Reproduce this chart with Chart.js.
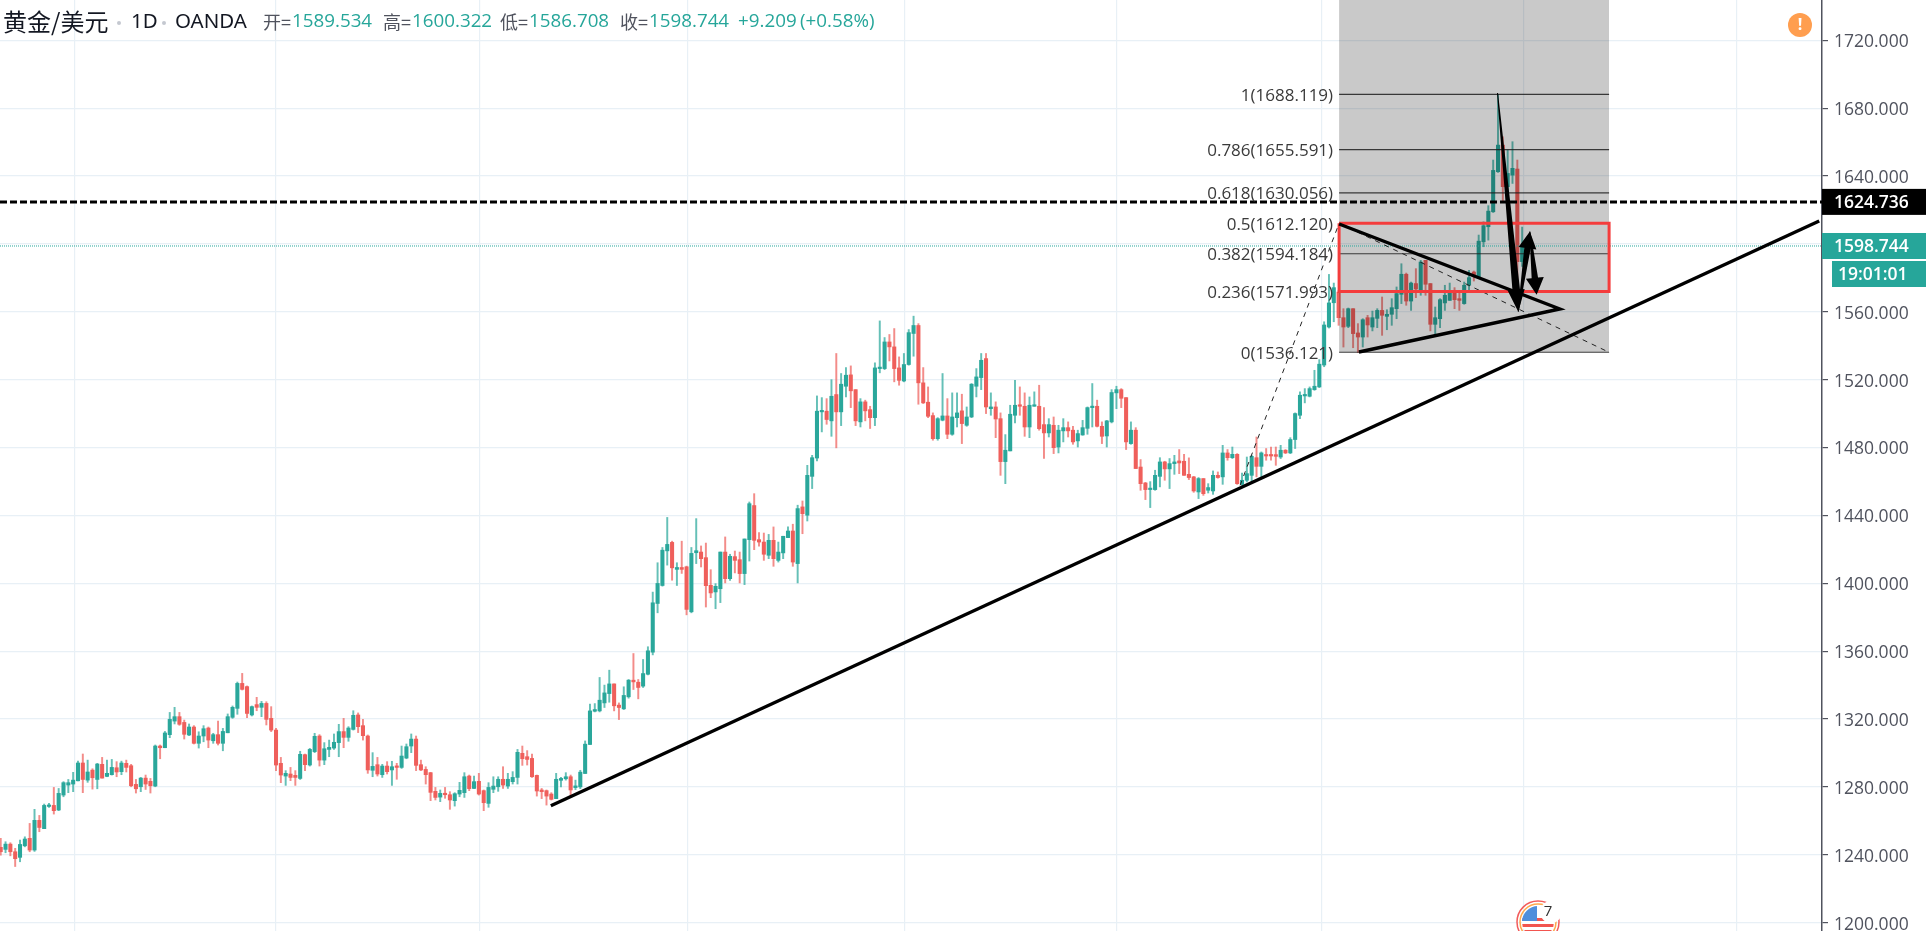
<!DOCTYPE html>
<html>
<head>
    <title>黄金/美元 1D OANDA</title>
    <script src="https://cdn.jsdelivr.net/npm/chart.js@4.4.1/dist/chart.umd.min.js"></script>
    <style>
        html, body { margin: 0; padding: 0; background: #ffffff; overflow: hidden; }
        .chart-container { position: relative; width: 1926px; height: 931px; }
    </style>
</head>
<body>
    <div class="chart-container">
        <canvas id="goldChart" width="1926" height="931"></canvas>
    </div>

    <script>
        // Daily candles, oldest first
        const opens = [
            1244.4,1243.2,1246.3,1241.8,1238.5,1245.3,1249.7,1242.8,1260.3,1255.4,
            1268.5,1269.1,1266.4,1275.2,1281.1,1281.7,1283.6,1294.1,1284.0,1289.9,
            1284.4,1293.3,1286.2,1287.2,1291.3,1289.0,1293.9,1292.5,1281.5,1280.1,
            1285.2,1283.3,1280.5,1304.1,1303.1,1310.8,1318.8,1321.4,1318.0,1310.6,
            1315.3,1305.7,1310.0,1314.7,1307.2,1310.8,1305.7,1311.9,1321.0,1326.3,
            1341.0,1339.1,1322.4,1328.5,1326.9,1329.2,1320.4,1313.5,1293.9,1286.4,
            1287.6,1286.8,1285.0,1299.0,1292.9,1300.8,1310.0,1295.8,1302.1,1302.9,
            1306.1,1312.6,1309.2,1313.9,1322.4,1316.1,1310.0,1289.8,1293.1,1287.2,
            1292.3,1290.0,1291.9,1291.5,1297.0,1304.1,1308.2,1293.1,1290.3,1288.4,
            1277.4,1274.0,1276.0,1275.4,1271.9,1275.8,1276.6,1286.4,1279.1,1283.3,
            1277.8,1270.3,1278.6,1280.1,1284.5,1280.5,1283.1,1285.6,1299.8,1297.8,
            1296.8,1286.8,1278.2,1277.8,1275.8,1273.1,1283.9,1284.8,1286.0,1279.6,
            1280.0,1287.9,1305.0,1324.6,1324.8,1329.5,1335.0,1340.7,1328.2,1326.0,
            1333.1,1342.9,1341.7,1339.4,1346.4,1359.4,1388.1,1398.7,1419.1,1424.1,
            1408.2,1409.3,1409.7,1383.2,1418.0,1418.4,1415.1,1398.8,1394.9,1396.8,
            1418.4,1402.7,1415.7,1413.9,1405.7,1425.7,1445.8,1425.7,1424.3,1416.5,
            1425.3,1413.5,1417.9,1426.9,1430.8,1411.6,1445.0,1440.1,1463.0,1473.8,
            1501.0,1501.4,1495.7,1511.2,1501.0,1516.1,1522.8,1514.1,1495.1,1506.9,
            1502.3,1497.6,1526.5,1526.5,1542.2,1539.3,1526.9,1519.2,1528.9,1547.2,
            1551.9,1518.1,1506.7,1498.8,1485.2,1496.1,1498.6,1487.8,1497.6,1501.6,
            1493.1,1498.0,1516.1,1521.2,1532.4,1502.9,1503.9,1497.0,1471.7,1478.0,
            1499.0,1504.9,1504.3,1492.1,1504.3,1504.3,1493.5,1488.6,1493.1,1480.3,
            1489.8,1491.7,1490.2,1483.9,1487.4,1491.3,1503.5,1504.3,1492.5,1486.8,
            1495.1,1512.2,1514.1,1509.4,1482.3,1490.2,1468.5,1459.1,1455.2,1455.2,
            1463.0,1471.5,1467.4,1470.5,1472.1,1471.9,1464.2,1462.7,1453.8,1461.7,
            1454.8,1454.4,1463.6,1462.7,1476.8,1474.0,1476.0,1458.3,1460.7,1463.6,
            1474.0,1468.9,1475.8,1475.8,1475.8,1474.4,1478.4,1476.8,1484.7,1499.0,
            1510.4,1510.2,1514.1,1515.7,1528.6,1551.0,1565.3,1571.6,1556.5,1551.4,
            1561.8,1547.5,1545.1,1556.5,1551.0,1556.1,1560.8,1557.3,1558.5,1561.8,
            1570.3,1582.1,1566.3,1576.6,1573.0,1590.3,1576.6,1552.6,1555.9,1565.2,
            1566.7,1572.2,1567.7,1564.8,1575.6,1583.4,1580.6,1601.2,1610.1,1618.9,
            1642.5,1658.2,1633.7,1640.5,1644.1,1589.534
        ];
        const highs = [
            1249.7,1247.7,1247.1,1243.8,1248.7,1250.6,1258.5,1266.8,1263.2,1269.9,
            1270.3,1279.7,1279.1,1283.1,1284.4,1288.6,1295.2,1299.4,1295.8,1290.7,
            1293.9,1297.4,1295.8,1296.2,1294.9,1295.2,1295.8,1293.3,1284.4,1285.6,
            1287.0,1285.0,1304.7,1304.7,1312.7,1323.9,1326.9,1323.9,1319.4,1317.1,
            1316.1,1312.5,1316.1,1315.3,1311.6,1318.8,1314.5,1323.0,1327.7,1341.8,
            1346.9,1339.5,1327.7,1332.8,1330.4,1330.2,1327.3,1314.5,1297.4,1289.6,
            1291.5,1289.6,1301.0,1299.4,1302.7,1311.6,1310.8,1306.1,1307.6,1311.2,
            1316.9,1320.4,1315.5,1324.9,1323.6,1319.8,1310.6,1300.2,1297.4,1293.3,
            1294.9,1295.1,1293.9,1304.1,1305.3,1311.2,1310.0,1295.8,1291.9,1288.6,
            1279.7,1278.2,1279.7,1277.2,1276.6,1282.7,1288.4,1287.0,1286.4,1288.0,
            1278.2,1282.5,1286.0,1286.0,1291.9,1288.0,1289.0,1302.1,1304.1,1301.4,
            1299.4,1287.0,1279.1,1278.2,1276.6,1288.0,1285.6,1288.4,1287.0,1284.0,
            1289.8,1307.1,1328.8,1329.1,1344.5,1340.0,1348.8,1340.7,1329.5,1339.0,
            1343.3,1358.6,1343.3,1355.1,1362.6,1394.8,1412.1,1421.1,1438.8,1424.8,
            1412.1,1424.8,1410.1,1421.1,1438.1,1422.0,1423.7,1408.0,1399.8,1418.4,
            1427.3,1417.1,1419.0,1418.4,1426.1,1447.9,1452.8,1429.8,1429.6,1428.8,
            1433.2,1424.3,1427.7,1433.2,1434.8,1446.0,1448.5,1469.5,1475.4,1510.4,
            1509.4,1508.8,1520.0,1535.4,1523.6,1527.1,1528.1,1514.1,1508.8,1507.9,
            1504.3,1529.9,1554.6,1544.8,1546.6,1550.1,1533.4,1535.4,1549.5,1557.4,
            1553.0,1527.1,1515.7,1500.4,1497.6,1523.6,1508.8,1512.2,1512.2,1511.4,
            1503.9,1517.7,1526.5,1535.4,1535.4,1512.2,1506.9,1500.4,1487.6,1504.9,
            1519.6,1515.7,1512.2,1509.8,1512.8,1516.7,1503.5,1497.0,1498.0,1493.1,
            1497.0,1495.1,1492.5,1490.2,1496.0,1503.9,1517.7,1507.9,1495.1,1496.0,
            1514.1,1516.1,1514.7,1509.4,1495.1,1491.7,1472.9,1459.5,1459.9,1466.6,
            1474.0,1471.9,1473.5,1475.4,1478.8,1476.0,1473.9,1463.0,1462.3,1461.7,
            1458.7,1466.2,1465.6,1481.3,1478.8,1480.3,1476.4,1465.0,1474.4,1475.4,
            1486.2,1477.4,1479.4,1480.3,1480.3,1481.3,1478.8,1485.8,1500.4,1512.8,
            1514.7,1515.7,1525.5,1531.8,1554.1,1582.0,1576.9,1572.6,1561.8,1562.2,
            1561.8,1553.0,1555.9,1557.9,1560.4,1561.8,1568.7,1561.2,1567.7,1574.6,
            1588.3,1582.8,1577.5,1585.4,1590.3,1590.3,1576.6,1562.8,1567.7,1575.6,
            1576.9,1574.2,1572.6,1577.5,1584.4,1584.0,1605.2,1613.0,1622.5,1649.4,
            1688.1,1663.1,1655.3,1660.2,1649.4,1609.9
        ];
        const lows = [
            1239.8,1241.2,1239.4,1233.1,1235.9,1244.7,1241.8,1242.0,1253.6,1255.4,
            1267.9,1264.0,1266.0,1274.2,1276.6,1277.2,1283.6,1276.6,1282.7,1278.7,
            1278.9,1285.2,1286.0,1287.0,1286.0,1287.2,1288.8,1280.1,1276.4,1277.2,
            1278.5,1276.4,1280.1,1296.6,1303.1,1309.0,1317.1,1316.3,1308.2,1310.2,
            1305.3,1302.9,1306.6,1303.1,1305.7,1304.7,1301.3,1311.9,1320.4,1322.8,
            1337.1,1320.8,1321.8,1324.9,1321.4,1316.5,1312.6,1289.6,1282.5,1280.9,
            1283.7,1280.9,1284.4,1289.6,1292.3,1300.2,1292.3,1293.1,1297.8,1302.1,
            1297.8,1303.1,1306.9,1313.5,1312.0,1307.6,1288.0,1286.0,1286.4,1285.6,
            1287.6,1280.9,1284.5,1290.9,1296.6,1300.2,1289.6,1289.6,1281.7,1271.9,
            1272.3,1271.3,1273.3,1266.8,1268.7,1274.2,1273.8,1277.8,1279.0,1275.2,
            1266.0,1268.0,1276.6,1277.4,1279.1,1279.1,1281.7,1281.7,1292.7,1292.9,
            1285.6,1274.6,1273.1,1269.3,1272.3,1273.1,1280.0,1284.0,1274.2,1278.4,
            1279.0,1287.9,1305.0,1324.2,1324.2,1326.8,1329.9,1324.8,1319.7,1325.6,
            1332.3,1337.4,1331.9,1338.6,1346.0,1357.8,1382.6,1398.3,1410.7,1401.8,
            1398.7,1405.8,1381.4,1382.6,1411.6,1409.6,1386.0,1391.5,1385.0,1388.6,
            1400.2,1401.7,1406.1,1400.2,1399.2,1413.1,1419.8,1421.8,1413.5,1414.5,
            1410.0,1412.5,1414.5,1426.9,1410.0,1400.2,1429.2,1436.7,1455.8,1472.1,
            1489.2,1493.7,1486.6,1479.8,1492.9,1509.8,1503.5,1492.9,1492.1,1495.7,
            1491.2,1492.9,1524.0,1525.9,1531.0,1518.7,1516.7,1518.7,1528.5,1533.8,
            1505.5,1505.9,1497.6,1484.3,1484.3,1495.7,1485.2,1487.2,1492.1,1482.3,
            1492.5,1497.6,1509.8,1514.1,1500.0,1499.0,1485.8,1463.6,1458.7,1478.0,
            1494.5,1499.0,1486.6,1485.8,1504.3,1490.2,1473.5,1486.2,1476.4,1476.8,
            1483.3,1486.2,1481.9,1480.3,1487.2,1487.8,1492.1,1492.1,1482.3,1480.3,
            1494.5,1502.9,1503.5,1478.8,1481.9,1467.6,1454.8,1449.3,1444.6,1454.8,
            1456.8,1460.7,1455.8,1464.2,1464.6,1463.6,1461.1,1453.6,1449.9,1451.8,
            1453.2,1452.4,1461.9,1458.3,1472.5,1473.5,1458.3,1457.7,1459.7,1459.1,
            1462.7,1462.7,1472.5,1472.5,1469.5,1473.5,1476.4,1476.4,1479.4,1497.0,
            1506.3,1509.8,1513.7,1515.3,1527.6,1550.4,1554.1,1552.0,1539.2,1550.6,
            1538.8,1535.9,1539.2,1545.1,1548.7,1550.6,1546.1,1549.4,1552.0,1555.9,
            1564.8,1563.8,1560.8,1568.3,1569.7,1569.7,1548.7,1546.7,1550.6,1560.8,
            1566.7,1561.8,1560.8,1564.4,1572.6,1578.1,1580.0,1598.3,1602.2,1618.5,
            1642.1,1624.8,1628.8,1635.6,1577.7,1586.708
        ];
        const closes = [
            1241.8,1246.3,1241.8,1237.7,1246.1,1249.3,1242.8,1260.3,1256.1,1269.1,
            1269.3,1266.0,1276.2,1282.5,1282.5,1284.0,1294.1,1284.4,1288.8,1285.4,
            1293.5,1285.2,1288.0,1291.5,1288.8,1294.1,1291.5,1280.7,1278.9,1285.2,
            1281.7,1280.7,1304.1,1303.1,1311.8,1319.8,1321.4,1316.9,1311.0,1315.3,
            1305.7,1310.0,1314.3,1307.6,1310.8,1305.7,1312.7,1321.4,1326.9,1341.0,
            1337.5,1323.3,1327.3,1326.9,1329.2,1319.8,1313.5,1292.9,1287.0,1288.0,
            1285.6,1285.6,1299.2,1293.1,1302.1,1309.8,1295.8,1302.5,1303.3,1306.3,
            1312.6,1309.2,1314.7,1322.2,1315.5,1310.2,1290.0,1292.1,1287.6,1292.3,
            1289.0,1291.9,1291.5,1298.2,1303.7,1308.2,1292.7,1290.0,1287.2,1276.8,
            1273.8,1276.2,1275.4,1272.3,1276.0,1278.0,1286.0,1279.0,1283.1,1275.8,
            1270.7,1279.7,1280.5,1284.5,1281.1,1284.5,1285.6,1300.4,1296.6,1296.2,
            1286.0,1277.6,1277.2,1274.6,1272.7,1284.5,1285.0,1286.0,1278.2,1280.6,
            1288.7,1305.2,1324.8,1325.6,1331.1,1335.4,1340.7,1327.8,1326.8,1333.9,
            1342.9,1341.9,1338.6,1346.8,1360.2,1388.5,1399.9,1419.5,1422.9,1409.1,
            1409.3,1408.2,1384.6,1417.6,1419.2,1414.5,1398.6,1394.3,1398.2,1418.4,
            1402.7,1415.9,1413.5,1405.7,1426.1,1446.9,1425.3,1424.3,1417.1,1425.3,
            1414.5,1418.4,1427.7,1430.8,1412.5,1444.0,1441.0,1463.6,1474.0,1501.4,
            1501.4,1496.5,1510.2,1501.0,1517.3,1522.6,1513.4,1495.7,1506.9,1501.6,
            1497.6,1526.9,1526.9,1542.2,1539.3,1526.5,1519.6,1528.9,1547.7,1551.9,
            1518.1,1506.3,1498.4,1485.2,1497.0,1498.6,1487.8,1498.0,1500.4,1494.1,
            1498.0,1517.3,1521.6,1531.4,1503.9,1503.9,1496.8,1471.7,1478.4,1499.6,
            1504.9,1504.3,1492.1,1504.9,1504.9,1491.1,1488.6,1493.5,1479.9,1490.2,
            1491.7,1489.8,1483.3,1488.2,1491.7,1503.5,1503.9,1492.5,1486.6,1495.7,
            1512.4,1514.1,1509.0,1483.3,1490.2,1467.6,1458.7,1455.2,1455.8,1463.6,
            1471.5,1467.4,1470.5,1471.5,1470.9,1463.6,1462.3,1454.4,1461.7,1452.8,
            1456.4,1463.6,1462.3,1476.8,1474.0,1476.0,1458.7,1460.7,1464.6,1474.8,
            1468.9,1476.8,1475.0,1475.0,1474.8,1478.4,1476.8,1484.7,1500.0,1510.8,
            1511.2,1514.7,1516.1,1529.1,1552.2,1565.2,1574.2,1556.5,1551.0,1561.8,
            1547.1,1545.1,1555.3,1552.2,1556.5,1560.8,1557.9,1558.5,1562.4,1570.7,
            1582.1,1566.3,1576.9,1573.4,1589.3,1576.2,1552.6,1556.5,1567.1,1569.7,
            1572.2,1567.1,1566.7,1575.6,1580.1,1581.1,1601.6,1610.7,1619.3,1643.3,
            1658.2,1633.7,1641.5,1644.5,1589.5,1598.744
        ];

        const priceTicks = [1200, 1240, 1280, 1320, 1360, 1400, 1440, 1480, 1520, 1560, 1600, 1640, 1680, 1720];
        const gridBars = [15.2, 57, 99.2, 142.3, 187.2, 231.1, 273.4, 315.3, 359.3];

        // Fibonacci levels
        const fibRatios = ['1', '0.786', '0.618', '0.5', '0.382', '0.236', '0'];
        const fibPrices = [1688.119, 1655.591, 1630.056, 1612.12, 1594.184, 1571.993, 1536.121];
        const fibFrom = 277.1;
        const fibTo = 333;

        // Hand drawn lines, as [bar, price]
        const supportLine = [[113.9, 1268.9], [376.5, 1613.5]];
        const wedgeLine = [[277.1, 1611.7], [322.8, 1561.6], [281.2, 1536.3]];
        const fibRise = [[256.6, 1457.7], [277.1, 1612.1]];
        const fibFall = [[277.1, 1612.1], [333, 1536.1]];
        const arrowPaths = [
            [[309.9, 1688.9], [314.2, 1560]],
            [[314.2, 1560], [316.6, 1607.3]],
            [[316.6, 1607.3], [318, 1570]]
        ];
        const resistancePrice = 1624.736;
        const lastPrice = 1598.744;

        const font = '"Open Sans", sans-serif';

        const xMin = -0.145;
        const xMax = 377.08;
        const yMin = 1195.1;
        const yMax = 1743.7;

        const barIndexes = opens.map((_, i) => i);
        const candleColor = (i, alpha) => {
            const color = closes[i] >= opens[i] ? '42,167,155' : '239,95,91';
            return `rgba(${color},${alpha})`;
        };
        const toPoints = pairs => pairs.map(p => ({ x: p[0], y: p[1] }));
        const flatLine = (price, from, to) => [{ x: from, y: price }, { x: to, y: price }];

        const lineDataset = (data, color, width, order, dash) => ({
            type: 'line',
            data: data,
            borderColor: color,
            borderWidth: width,
            borderDash: dash || [],
            pointRadius: 0,
            tension: 0,
            fill: false,
            order: order
        });

        // Chart.js leaves room for the first and last tick label, the plot has to reach the edges
        const noEdgePadding = scale => {
            scale.paddingTop = 0;
            scale.paddingBottom = 0;
            scale.paddingLeft = 0;
            scale.paddingRight = 0;
        };

        // Texts and tapered arrows that sit on top of the chart
        const overlays = {
            id: 'overlays',
            afterDraw(chart) {
                const ctx = chart.ctx;
                const x = chart.scales.x;
                const y = chart.scales.y;
                ctx.save();
                ctx.textBaseline = 'middle';

                // arrows get thicker towards the head
                ctx.fillStyle = '#000000';
                arrowPaths.forEach((path, n) => {
                    const x1 = x.getPixelForValue(path[0][0]);
                    const y1 = y.getPixelForValue(path[0][1]);
                    const x2 = x.getPixelForValue(path[1][0]);
                    const y2 = y.getPixelForValue(path[1][1]);
                    const len = Math.hypot(x2 - x1, y2 - y1);
                    const ux = (x2 - x1) / len;
                    const uy = (y2 - y1) / len;
                    const headLen = n === 0 ? 22 : 17;
                    const headW = n === 0 ? 8.5 : 9;
                    const bx = x2 - ux * headLen;
                    const by = y2 - uy * headLen;
                    const tail = 0.5;
                    const neck = n === 0 ? 3.8 : 3.2;
                    ctx.beginPath();
                    ctx.moveTo(x1 - uy * tail, y1 + ux * tail);
                    ctx.lineTo(bx - uy * neck, by + ux * neck);
                    ctx.lineTo(bx - uy * headW, by + ux * headW);
                    ctx.lineTo(x2, y2);
                    ctx.lineTo(bx + uy * headW, by - ux * headW);
                    ctx.lineTo(bx + uy * neck, by - ux * neck);
                    ctx.lineTo(x1 + uy * tail, y1 - ux * tail);
                    ctx.closePath();
                    ctx.fill();
                });

                // fibonacci labels
                ctx.font = '17px ' + font;
                ctx.fillStyle = '#3a3a3a';
                ctx.textAlign = 'right';
                fibPrices.forEach((price, i) => {
                    ctx.fillText(`${fibRatios[i]}(${price.toFixed(3)})`, x.getPixelForValue(fibFrom) - 6, y.getPixelForValue(price) + 1.5);
                });

                // price tags on the axis
                ctx.textAlign = 'left';
                const tag = (value, text, color, left) => {
                    const py = y.getPixelForValue(value);
                    ctx.fillStyle = color;
                    ctx.fillRect(left, py - 13, 1926 - left, 26);
                    ctx.fillStyle = '#ffffff';
                    ctx.font = '600 17.5px ' + font;
                    ctx.fillText(text, 1834, py + 1);
                };
                tag(resistancePrice, resistancePrice.toFixed(3), '#000000', 1822);
                tag(lastPrice, lastPrice.toFixed(3), '#26a69a', 1822);
                const clockY = y.getPixelForValue(lastPrice) + 28;
                ctx.fillStyle = '#26a69a';
                ctx.fillRect(1832, clockY - 13, 94, 26);
                ctx.fillStyle = '#ffffff';
                ctx.fillText('19:01:01', 1838, clockY + 1);

                // header line
                const dark = '#131722';
                const gray = '#50535e';
                const teal = '#26a69a';
                ctx.fillStyle = dark;
                ctx.font = '24px "Noto Sans CJK SC"';
                ctx.fillText('黄金/美元', 3, 22);
                ctx.font = '20.5px "Noto Sans"';
                ctx.fillText('1D', 131, 22);
                ctx.fillText('OANDA', 175, 22);
                ctx.fillStyle = '#c4c8d0';
                [119, 164].forEach(dotX => {
                    ctx.beginPath();
                    ctx.arc(dotX, 23, 2, 0, Math.PI * 2);
                    ctx.fill();
                });
                [['开', '=', '1589.534', 263], ['高', '=', '1600.322', 383], ['低', '=', '1586.708', 500], ['收', '=', '1598.744', 620]].forEach(part => {
                    ctx.fillStyle = gray;
                    ctx.font = '18px "Noto Sans CJK SC"';
                    ctx.fillText(part[0] + part[1], part[3], 22);
                    ctx.fillStyle = teal;
                    ctx.font = '18.8px ' + font;
                    ctx.fillText(part[2], part[3] + 29, 22);
                });
                ctx.fillText('+9.209', 738, 22);
                ctx.fillText('(+0.58%)', 800, 22);

                // warning badge
                ctx.fillStyle = '#ff9e4f';
                ctx.beginPath();
                ctx.arc(1800, 25, 12, 0, Math.PI * 2);
                ctx.fill();
                ctx.fillStyle = '#ffffff';
                ctx.font = '700 16px ' + font;
                ctx.textAlign = 'center';
                ctx.fillText('!', 1800, 25);

                // economic event flag at the bottom edge
                ctx.save();
                ctx.beginPath();
                ctx.rect(1500, 880, 100, 51);
                ctx.clip();
                ctx.beginPath();
                ctx.arc(1538, 922, 16, 0, Math.PI * 2);
                ctx.fillStyle = '#ffffff';
                ctx.fill();
                ctx.save();
                ctx.clip();
                ['#f2554f', '#ffffff', '#f2554f', '#ffffff', '#f2554f'].forEach((c, i) => {
                    ctx.fillStyle = c;
                    ctx.fillRect(1520, 918 + i * 3, 40, 3);
                });
                ctx.fillStyle = '#4f8fdc';
                ctx.fillRect(1522, 906, 15, 15);
                ctx.restore();
                ctx.lineWidth = 1.5;
                ctx.strokeStyle = '#ffa94d';
                ctx.beginPath();
                ctx.arc(1538, 922, 18, 0, Math.PI * 2);
                ctx.stroke();
                ctx.strokeStyle = '#f25c5c';
                ctx.beginPath();
                ctx.arc(1538, 922, 21, 0, Math.PI * 2);
                ctx.stroke();
                ctx.fillStyle = '#ffffff';
                ctx.beginPath();
                ctx.arc(1551, 912, 11, 0, Math.PI * 2);
                ctx.fill();
                ctx.restore();
                ctx.fillStyle = '#333333';
                ctx.font = '15px ' + font;
                ctx.fillText('7', 1548, 912);

                ctx.restore();
            }
        };

        new Chart(document.getElementById('goldChart'), {
            type: 'bar',
            data: {
                datasets: [
                    // top layers first, lower order is drawn last
                    lineDataset(toPoints(wedgeLine), '#000000', 3.4, 3),
                    lineDataset(toPoints(supportLine), '#000000', 3.4, 3),
                    lineDataset(flatLine(resistancePrice, xMin, xMax), '#000000', 3, 4, [7, 3]),
                    lineDataset(
                        [{ x: fibFrom, y: fibPrices[3] }, { x: fibTo, y: fibPrices[3] }, { x: fibTo, y: fibPrices[5] }, { x: fibFrom, y: fibPrices[5] }, { x: fibFrom, y: fibPrices[3] }],
                        '#f43c3c', 3, 5
                    ),
                    lineDataset(toPoints(fibRise), '#222222', 1, 6, [5, 5]),
                    lineDataset(toPoints(fibFall), '#222222', 1, 6, [5, 5]),
                    ...fibPrices.map(price => lineDataset(flatLine(price, fibFrom, fibTo), 'rgba(30,30,30,0.85)', 1.2, 7)),
                    lineDataset(flatLine(lastPrice, xMin, xMax), '#26a69a', 1, 8, [1, 1]),
                    {
                        type: 'line',
                        data: flatLine(fibPrices[6], fibFrom, fibTo),
                        borderWidth: 0,
                        pointRadius: 0,
                        fill: 'end',
                        backgroundColor: 'rgba(0,0,0,0.21)',
                        order: 9
                    },
                    {
                        data: barIndexes.map(i => ({ x: i, y: [opens[i], closes[i]] })),
                        backgroundColor: barIndexes.map(i => candleColor(i, 1)),
                        barThickness: 3.4,
                        minBarLength: 1.5,
                        grouped: false,
                        order: 10
                    },
                    {
                        data: barIndexes.map(i => ({ x: i, y: [lows[i], highs[i]] })),
                        backgroundColor: barIndexes.map(i => candleColor(i, 0.72)),
                        barThickness: 1.3,
                        grouped: false,
                        order: 11
                    }
                ]
            },
            options: {
                responsive: false,
                animation: false,
                layout: { padding: 0 },
                plugins: { legend: { display: false }, tooltip: { enabled: false } },
                scales: {
                    x: {
                        type: 'linear',
                        offset: false,
                        min: xMin,
                        max: xMax,
                        afterBuildTicks: scale => { scale.ticks = gridBars.map(v => ({ value: v })); },
                        afterFit: noEdgePadding,
                        ticks: { display: false, autoSkip: false },
                        border: { display: false },
                        grid: { offset: false, color: '#e8f0f6', lineWidth: 1.2, drawTicks: false }
                    },
                    y: {
                        position: 'right',
                        min: yMin,
                        max: yMax,
                        afterBuildTicks: scale => { scale.ticks = priceTicks.map(v => ({ value: v })); },
                        afterFit: scale => { scale.width = 104; noEdgePadding(scale); },
                        ticks: {
                            autoSkip: false,
                            padding: 6,
                            color: '#50535e',
                            // empty first line nudges the label 2px below the grid line
                            font: { family: '"Open Sans"', size: 17.5, lineHeight: '4px' },
                            callback: value => ['', value.toFixed(3)]
                        },
                        border: { color: '#50535e', width: 1.5 },
                        grid: { color: '#e8f0f6', lineWidth: 1.2, tickColor: '#50535e', tickLength: 6 }
                    }
                }
            },
            plugins: [overlays]
        });
    </script>
</body>
</html>
